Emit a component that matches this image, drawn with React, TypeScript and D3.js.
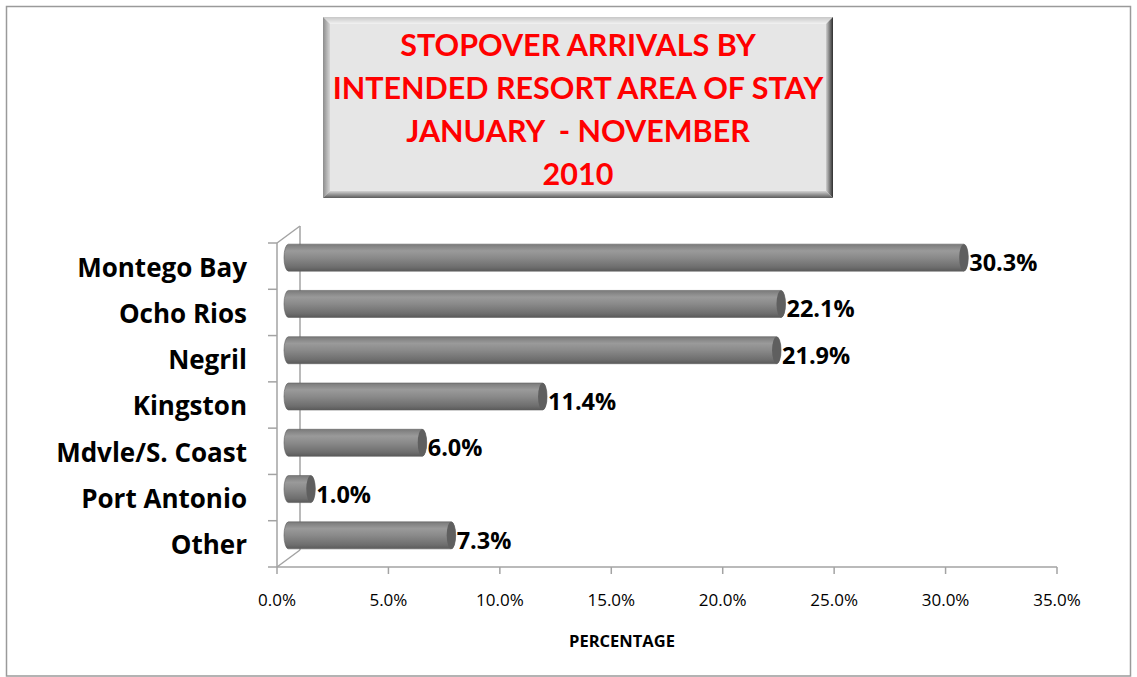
import React from 'react';
import * as d3 from 'd3';

const categories = ['Montego Bay', 'Ocho Rios', 'Negril', 'Kingston', 'Mdvle/S. Coast', 'Port Antonio', 'Other'];
const shares = [30.3, 22.1, 21.9, 11.4, 6.0, 1.0, 7.3];
const xTicks = [0, 5, 10, 15, 20, 25, 30, 35];
const titleLines = ['STOPOVER ARRIVALS BY', 'INTENDED RESORT AREA OF STAY', 'JANUARY  - NOVEMBER', '2010'];

const W = 1137;
const H = 677;
const plot = { left: 277, right: 1057, top: 243, bottom: 567 };
const depth = { dx: 23, dy: -17 };
const titleFont = 'Lato, "Open Sans", sans-serif';
const font = '"Open Sans", Lato, sans-serif';
const frameColor = '#a3a3a3';

const App = () => {
  const x = d3.scaleLinear().domain([0, 35]).range([plot.left, plot.right]);
  const y = d3.scaleBand<string>().domain(categories).range([plot.top, plot.bottom]);
  const fmt = (v: number) => d3.format('.1f')(v) + '%';

  // cylinders sit half way into the depth
  const ox = depth.dx / 2;
  const oy = depth.dy / 2;
  const ry = 13.5;
  const rx = 4.5;

  const box = { x: 323, y: 17, w: 510, h: 181, b: 7 };

  return (
    <svg width={W} height={H} style={{ position: 'absolute', left: 0, top: 0 }}>
      <defs>
        <linearGradient id="cyl" x1="0" y1="0" x2="0" y2="1">
          <stop offset="0" stopColor="#7a7a7a" />
          <stop offset="0.25" stopColor="#9a9a9a" />
          <stop offset="0.5" stopColor="#8a8a8a" />
          <stop offset="0.85" stopColor="#6e6e6e" />
          <stop offset="1" stopColor="#5a5a5a" />
        </linearGradient>
        <linearGradient id="bvTop" x1="0" y1="0" x2="0" y2="1">
          <stop offset="0" stopColor="#c8c8c8" />
          <stop offset="1" stopColor="#f2f2f2" />
        </linearGradient>
        <linearGradient id="bvLeft" x1="0" y1="0" x2="1" y2="0">
          <stop offset="0" stopColor="#8c8c8c" />
          <stop offset="1" stopColor="#d6d6d6" />
        </linearGradient>
        <linearGradient id="bvRight" x1="1" y1="0" x2="0" y2="0">
          <stop offset="0" stopColor="#2e2e2e" />
          <stop offset="1" stopColor="#cfcfcf" />
        </linearGradient>
        <linearGradient id="bvBottom" x1="0" y1="1" x2="0" y2="0">
          <stop offset="0" stopColor="#5a5a5a" />
          <stop offset="1" stopColor="#d2d2d2" />
        </linearGradient>
      </defs>

      <rect x={6.5} y={6.5} width={1124} height={669.5} fill="#fff" stroke="#9a9a9a" strokeWidth={1.5} />

      {/* title box with bevel */}
      <g>
        <rect x={box.x} y={box.y} width={box.w} height={box.h} fill="#e6e6e6" />
        <polygon
          points={`${box.x},${box.y} ${box.x + box.w},${box.y} ${box.x + box.w - box.b},${box.y + box.b} ${box.x + box.b},${box.y + box.b}`}
          fill="url(#bvTop)"
        />
        <polygon
          points={`${box.x},${box.y} ${box.x + box.b},${box.y + box.b} ${box.x + box.b},${box.y + box.h - box.b} ${box.x},${box.y + box.h}`}
          fill="url(#bvLeft)"
        />
        <polygon
          points={`${box.x + box.w},${box.y} ${box.x + box.w},${box.y + box.h} ${box.x + box.w - box.b},${box.y + box.h - box.b} ${box.x + box.w - box.b},${box.y + box.b}`}
          fill="url(#bvRight)"
        />
        <polygon
          points={`${box.x},${box.y + box.h} ${box.x + box.w},${box.y + box.h} ${box.x + box.w - box.b},${box.y + box.h - box.b} ${box.x + box.b},${box.y + box.h - box.b}`}
          fill="url(#bvBottom)"
        />
        {titleLines.map((t, i) => (
          <text
            key={i}
            x={box.x + box.w / 2}
            y={45 + i * 43}
            dy="0.36em"
            textAnchor="middle"
            fontFamily={titleFont}
            fontWeight="bold"
            fontSize={30.5}
            fill="#ff0000"
            style={{ whiteSpace: 'pre' }}
          >
            {t}
          </text>
        ))}
      </g>

      {/* 3D frame */}
      <g stroke={frameColor} strokeWidth={1.5} fill="none">
        <line x1={plot.left} y1={plot.top} x2={plot.left} y2={plot.bottom} />
        <line x1={plot.left} y1={plot.bottom} x2={plot.right} y2={plot.bottom} />
        <line x1={plot.left} y1={plot.top} x2={plot.left + depth.dx} y2={plot.top + depth.dy} />
        <line x1={plot.left} y1={plot.bottom} x2={plot.left + depth.dx} y2={plot.bottom + depth.dy} />
        <line x1={plot.left + depth.dx} y1={plot.top + depth.dy} x2={plot.left + depth.dx} y2={plot.bottom + depth.dy} />
        {[...categories.map(c => y(c) as number), plot.bottom].map((v, i) => (
          <line key={i} x1={plot.left - 9} y1={v} x2={plot.left} y2={v} />
        ))}
        {xTicks.map(t => (
          <line key={t} x1={x(t)} y1={plot.bottom} x2={x(t)} y2={plot.bottom + 7} />
        ))}
      </g>

      {/* cylinders */}
      {categories.map((c, i) => {
        const cy = (y(c) as number) + y.bandwidth() / 2 + oy;
        const x0 = x(0) + ox;
        const x1 = x(shares[i]) + ox;
        const d = `M${x0},${cy - ry} L${x1},${cy - ry} A${rx},${ry} 0 0 1 ${x1},${cy + ry} L${x0},${cy + ry} A${rx},${ry} 0 0 1 ${x0},${cy - ry} Z`;
        return (
          <g key={c}>
            <path d={d} fill="url(#cyl)" stroke="#5e5e5e" strokeWidth={0.6} />
            <ellipse cx={x1} cy={cy} rx={rx} ry={ry} fill="#5f5f5f" />
            <text
              x={x1 + rx + 1}
              y={cy + 5}
              dy="0.36em"
              fontFamily={font}
              fontWeight="bold"
              fontSize={23.5}
              fill="#000"
            >
              {fmt(shares[i])}
            </text>
          </g>
        );
      })}

      {/* category labels */}
      {categories.map(c => (
        <text
          key={c}
          x={247}
          y={(y(c) as number) + y.bandwidth() / 2 + 1}
          dy="0.36em"
          textAnchor="end"
          fontFamily={font}
          fontWeight="bold"
          fontSize={26}
          fill="#000"
        >
          {c}
        </text>
      ))}

      {/* x tick labels */}
      {xTicks.map(t => (
        <text key={t} x={x(t)} y={600} dy="0.36em" textAnchor="middle" fontFamily={font} fontSize={17} fill="#000">
          {fmt(t)}
        </text>
      ))}
      <text x={622} y={641} dy="0.36em" textAnchor="middle" fontFamily={font} fontWeight="bold" fontSize={16.5} fill="#000">
        PERCENTAGE
      </text>
    </svg>
  );
};

export default App;
